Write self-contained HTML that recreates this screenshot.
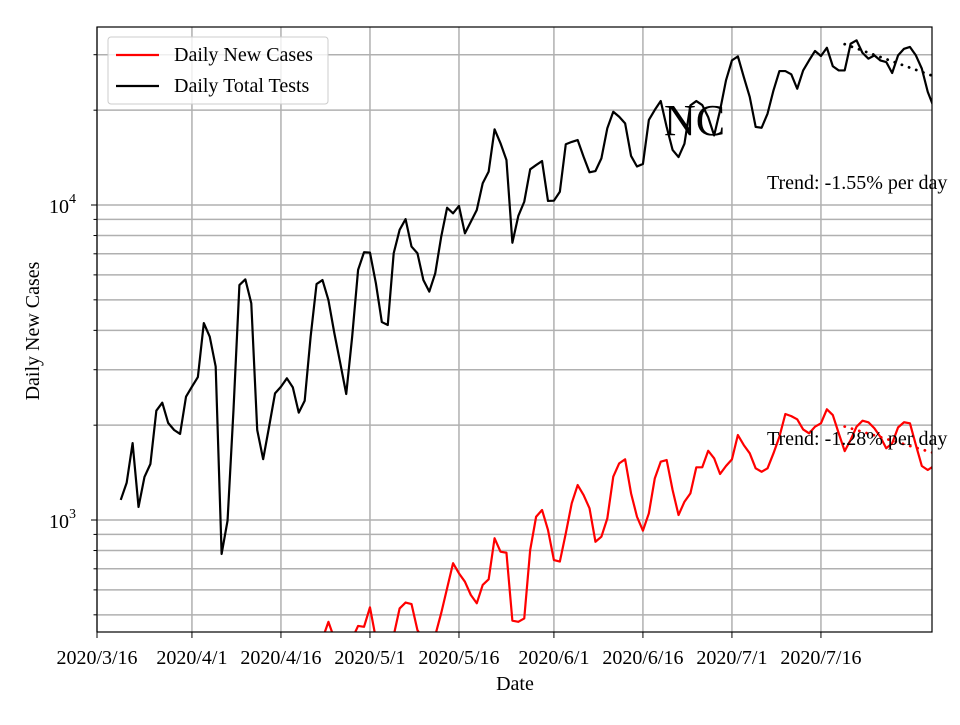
<!DOCTYPE html>
<html><head><meta charset="utf-8"><style>
html,body{margin:0;padding:0;background:#fff;}
svg text{font-family:"Liberation Serif",serif;}
</style></head><body>
<svg id="chart" width="960" height="720" viewBox="0 0 960 720">
<defs><clipPath id="clip"><rect x="97" y="27" width="835" height="605"/></clipPath></defs>
<g id="grid"></g>
<text x="664" y="135" font-size="44">NC</text>
<g id="series" clip-path="url(#clip)"></g>
<rect x="97" y="27" width="835" height="605" fill="none" stroke="#000" stroke-width="1.2"/>
<g id="axes"></g>
<text x="767" y="189" font-size="20">Trend: -1.55% per day</text>
<text x="767" y="445" font-size="20">Trend: -1.28% per day</text>
<text x="515" y="690" font-size="20" text-anchor="middle">Date</text>
<text transform="translate(39,331) rotate(-90)" font-size="20" text-anchor="middle">Daily New Cases</text>
<g>
<rect x="108" y="37" width="220" height="67" rx="3" fill="#fff" fill-opacity="0.8" stroke="#ccc"/>
<line x1="116" y1="55" x2="159" y2="55" stroke="#f00" stroke-width="2.2"/>
<text x="174" y="61" font-size="20">Daily New Cases</text>
<line x1="116" y1="86" x2="159" y2="86" stroke="#000" stroke-width="2.2"/>
<text x="174" y="92" font-size="20">Daily Total Tests</text>
</g>
</svg>
<script>
// data: day 0 = 2020/3/20
const startDayOffset = 4; // days after 2020/3/16
const tests = [1158,1313,1754,1100,1370,1506,2223,2357,2032,1931,1876,2462,2649,2843,4217,3818,3069,780,995,2234,5571,5807,4876,1931,1560,1977,2523,2649,2817,2637,2192,2391,3818,5611,5777,4993,3916,3143,2512,3818,6223,7080,7060,5640,4250,4160,7030,8340,9020,7380,7030,5780,5310,6070,7920,9800,9410,9930,8130,8850,9640,11720,12760,17390,15700,13900,7590,9230,10240,12980,13390,13790,10300,10320,11020,15590,15860,16080,14230,12700,12820,14060,17530,19770,19060,18160,14310,13250,13500,18620,20040,21380,17690,14960,14200,15660,20720,21380,20760,19010,16630,19980,24880,28780,29640,25480,22030,17690,17590,19500,23110,26620,26620,26000,23390,26740,28780,30830,29720,31570,27570,26740,26740,32500,33320,30410,29140,29850,28780,28440,26250,29850,31330,31750,29850,27100,22860,20460];
const cases = [200,210,220,230,240,250,260,270,280,290,300,300,310,320,330,330,340,350,350,360,360,370,370,380,380,390,390,400,400,410,410,415,420,425,420,475,420,415,410,420,461,458,528,420,410,415,430,524,547,541,447,420,410,430,506,607,729,677,637,578,544,622,648,875,793,787,479,475,487,803,1024,1076,930,746,738,907,1130,1291,1200,1089,853,885,1012,1372,1513,1558,1215,1024,925,1050,1356,1531,1550,1245,1037,1143,1215,1470,1470,1659,1570,1400,1484,1558,1861,1729,1628,1459,1423,1459,1628,1838,2170,2137,2088,1939,1884,1978,2027,2246,2154,1884,1655,1795,1978,2066,2043,1955,1838,1690,1751,1968,2043,2027,1729,1484,1441,1484];
const trendStartDay = 122, trendEndDay = 137;
const testsTrendStart = 32400, testsTrendRate = -0.0155;
const casesTrendStart = 1980, casesTrendRate = -0.0128;
const xTickLabels = ["2020/3/16","2020/4/1","2020/4/16","2020/5/1","2020/5/16","2020/6/1","2020/6/16","2020/7/1","2020/7/16"];
const xTickDays = [0,16,31,46,61,77,92,107,122];
const yMajorTicks = [3,4];

const NS="http://www.w3.org/2000/svg";
const X0=97,X1=932,Y0=27,Y1=632,pxDay=5.934;
const x=d=>X0+(d+startDayOffset)*pxDay;
const xd=d=>X0+d*pxDay;
const y=v=>520-(Math.log10(v)-3)*315;
function mk(tag,attrs,parent){const e=document.createElementNS(NS,tag);for(const k in attrs)e.setAttribute(k,attrs[k]);parent.appendChild(e);return e;}
const grid=document.getElementById('grid'),axes=document.getElementById('axes'),series=document.getElementById('series');
for(let k=2;k<=4;k++){for(let m=1;m<=9;m++){const v=m*Math.pow(10,k);const yy=y(v);if(yy<Y0||yy>Y1)continue;
 const g=mk('line',{x1:X0,x2:X1,y1:yy,y2:yy,stroke:'#b0b0b0','stroke-width':1.5},grid);
 
 
 const t=mk('line',{x1:X0-(m===1?6:3.5),x2:X0,y1:yy,y2:yy,stroke:'#000','stroke-width':1},axes);
 
 
}}
yMajorTicks.forEach(p=>{const yy=y(Math.pow(10,p));
 const t=mk('text',{x:49,y:yy+8,'font-size':20},axes);
 
 
 t.innerHTML='10<tspan dy="-10" font-size="14">'+p+'</tspan>';});
xTickDays.forEach((d,i)=>{const xx=xd(d);
 const g=mk('line',{x1:xx,x2:xx,y1:Y0,y2:Y1,stroke:'#b0b0b0','stroke-width':1.5},grid);
 
 
 const t=mk('line',{x1:xx,x2:xx,y1:Y1,y2:Y1+6,stroke:'#000','stroke-width':1},axes);
 
 
 const l=mk('text',{x:xx,y:Y1+32,'font-size':20,'text-anchor':'middle'},axes);
 
 
 l.textContent=xTickLabels[i];});
function line(arr,color,name){const p=mk('polyline',{points:arr.map((v,i)=>x(i)+','+y(v)).join(' '),fill:'none',stroke:color,'stroke-width':2.2,'stroke-linejoin':'round'},series);
 
 }
function trend(s,r,color,name){const pts=[];for(let d=trendStartDay;d<=trendEndDay;d++)pts.push(x(d)+','+y(s*Math.pow(1+r,d-trendStartDay)));
 const p=mk('polyline',{points:pts.join(' '),fill:'none',stroke:color,'stroke-width':2.8,'stroke-dasharray':'0.1 7.5','stroke-linecap':'round'},series);
 
 }
line(cases,'#f00','cases-line');
line(tests,'#000','tests-line');
trend(testsTrendStart,testsTrendRate,'#000','tests-trend-line');
trend(casesTrendStart,casesTrendRate,'#f00','cases-trend-line');
</script>
</body></html>
